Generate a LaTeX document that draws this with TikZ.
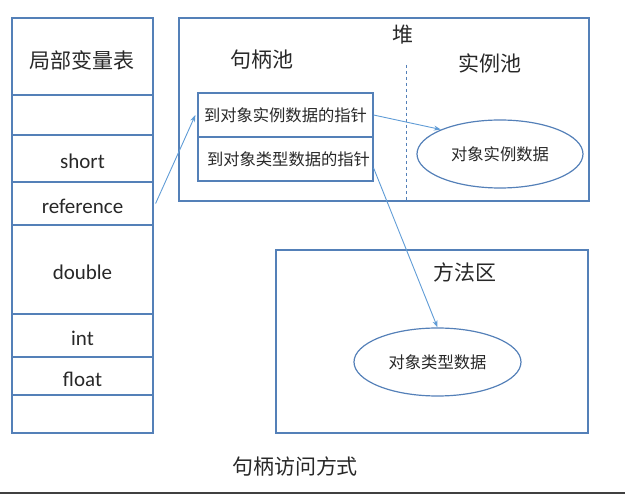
\documentclass[tikz,border=0pt]{standalone}
\usepackage{fontspec}
\setmainfont{Carlito}
\newfontfamily\cjk{Noto Sans CJK SC}
\usetikzlibrary{shapes.geometric,arrows.meta,positioning}
\definecolor{boxblue}{RGB}{84,128,184}
\definecolor{arrblue}{RGB}{96,156,214}
\definecolor{inkgrey}{RGB}{40,40,40}

\begin{document}
\begin{tikzpicture}[x=1pt,y=-1pt,
  every node/.style={text=inkgrey,inner sep=0pt},
  cell/.style={draw=boxblue,line width=1.2pt,minimum width=141pt,text height=21pt,text depth=0pt,
               font=\fontsize{21}{24}\selectfont},
  area/.style={draw=boxblue,line width=1.2pt},
  ptr/.style={draw=boxblue,line width=1.2pt,minimum width=175pt,minimum height=44pt,
              font=\cjk\fontsize{16.3}{19}\selectfont},
  blob/.style={ellipse,draw=boxblue,line width=1.2pt,font=\cjk\fontsize{16.3}{19}\selectfont},
  ttl/.style={font=\cjk\fontsize{21}{24}\selectfont},
  ar/.style={-{Stealth[length=7pt,width=5pt]},draw=arrblue,line width=0.9pt}]
\useasboundingbox (0,0) rectangle (625,494);
% local variable table
\node[cell,minimum height=77pt,text height=25pt,font=\cjk\fontsize{21}{24}\selectfont] (lvt) at (82.5,56.5) {局部变量表};
\node[cell,minimum height=40pt] (e1) at (82.5,115) {};
\node[cell,minimum height=47pt] (sh) at (82.5,158.5) {short};
\node[cell,minimum height=43pt] (ref) at (82.5,203.5) {reference};
\node[cell,minimum height=89pt] (dbl) at (82.5,269.5) {double};
\node[cell,minimum height=43pt] (int) at (82.5,335.5) {int};
\node[cell,minimum height=38pt] (flt) at (82.5,376) {float};
\node[cell,minimum height=38pt] (e2) at (82.5,414) {};
% heap
\node[area,minimum width=410pt,minimum height=183pt] (heap) at (384,109.5) {};
\node[ttl] (heaplbl) at (403,35) {堆};
\node[ttl] (hpool) at (262,60) {句柄池};
\node[ttl] (ipool) at (490,63) {实例池};
\draw[boxblue,dashed,line width=1pt] (406,65) -- (406,201);
\node[ptr] (h1) at (285.5,115) {到对象实例数据的指针};
\node[ptr] (h2) at (285.5,159) {\hspace{6pt}到对象类型数据的指针};
\node[blob,minimum width=166pt,minimum height=68pt] (inst) at (500,154) {对象实例数据};
% method area
\node[area,minimum width=312pt,minimum height=183pt] (meth) at (432,341.5) {};
\node[ttl] (mlbl) at (465,272) {方法区};
\node[blob,minimum width=167pt,minimum height=68pt] (typ) at (437.5,362) {对象类型数据};
\node[ttl] (cap) at (295,467) {句柄访问方式};
\draw[ar] ([xshift=2pt]ref.east) -- ([xshift=-2pt]h1.west);
\draw[ar] (h1.east) -- (inst.north west);
\draw[ar] ([yshift=-9pt]h2.east) -- (typ.north);
\draw[black!75,line width=1.5pt] (0,493) -- (625,493);
\end{tikzpicture}
\end{document}
